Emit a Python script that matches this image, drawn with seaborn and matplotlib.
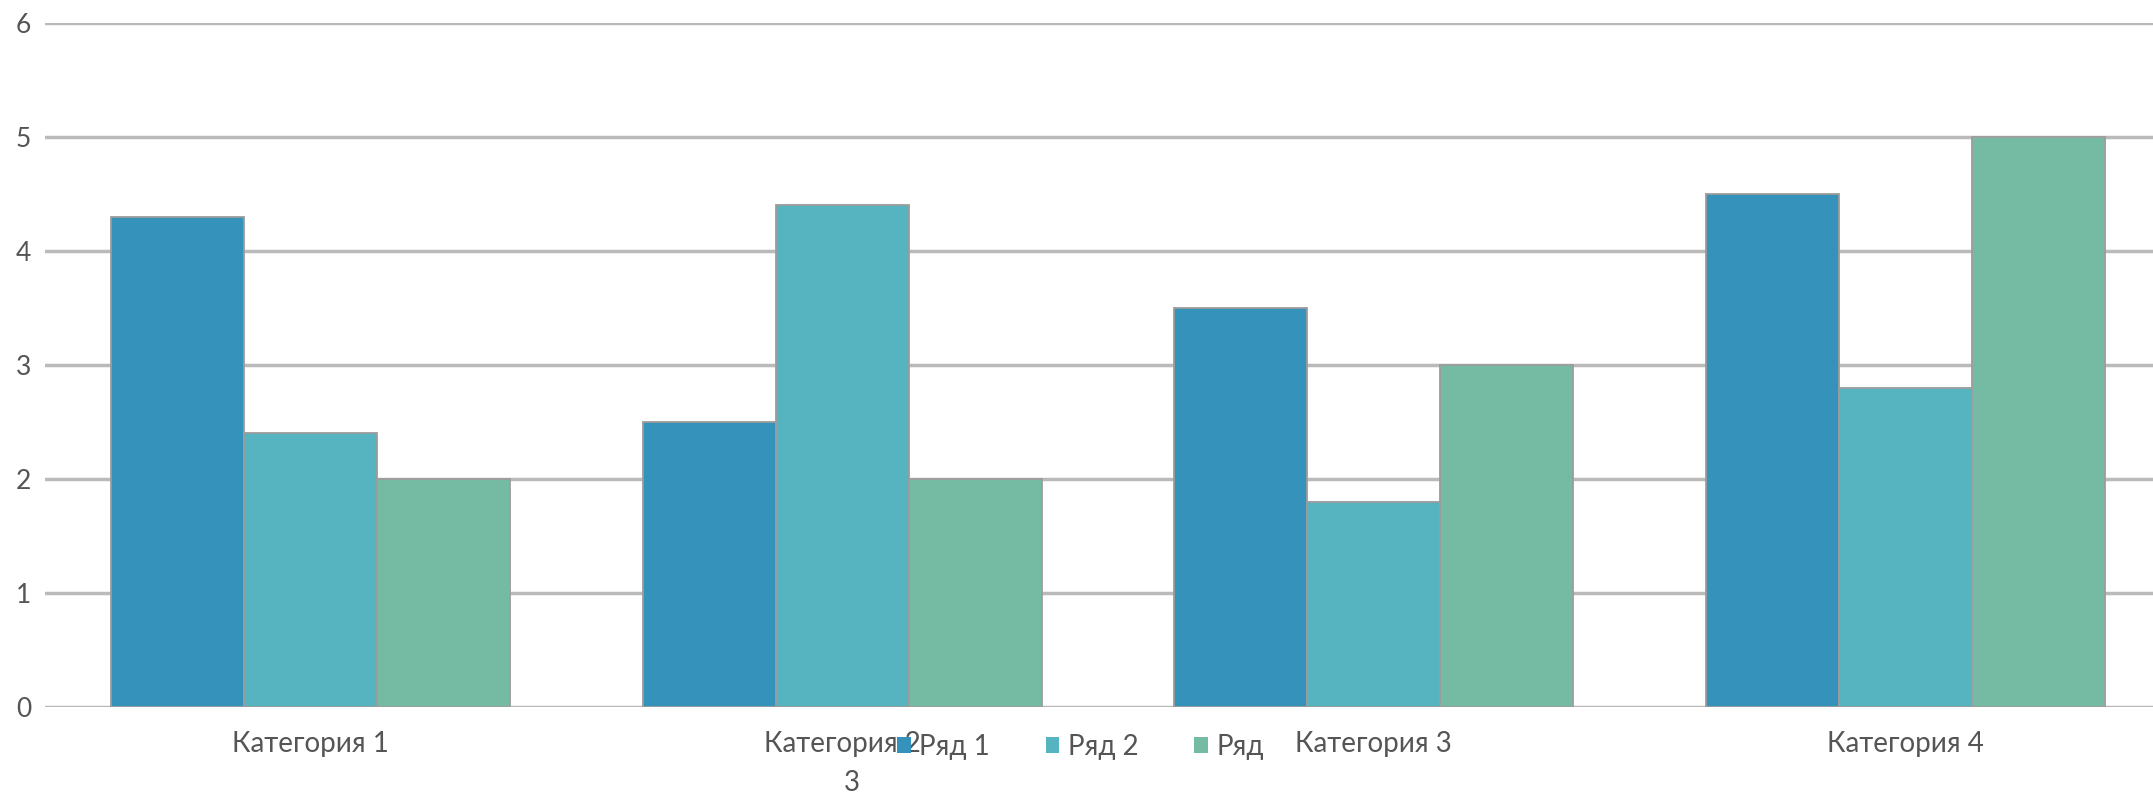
import matplotlib
matplotlib.use('Agg')
import matplotlib.pyplot as plt
import seaborn as sns
import pandas as pd
from matplotlib.patches import Patch

categories = ["Категория 1", "Категория 2", "Категория 3", "Категория 4"]
series_names = ["Ряд 1", "Ряд 2", "Ряд 3"]
row1 = [4.3, 2.5, 3.5, 4.5]
row2 = [2.4, 4.4, 1.8, 2.8]
row3 = [2.0, 2.0, 3.0, 5.0]
y_ticks = [0, 1, 2, 3, 4, 5, 6]
legend_labels = ["Ряд 1", "Ряд 2", "Ряд"]
colors = ["#3592BA", "#56B3C0", "#75BBA3"]

sns.set_theme(style="white")
plt.rcParams['font.family'] = ['Lato', 'DejaVu Sans']

values = [row1, row2, row3]
records = []
for s, vals in zip(series_names, values):
    for c, v in zip(categories, vals):
        records.append({"category": c, "series": s, "value": v})
df = pd.DataFrame(records)

W, H = 2153, 797
fig = plt.figure(figsize=(W / 100, H / 100), dpi=100)
ax = fig.add_axes([45 / W, (H - 707) / H, 2126 / W, (707 - 23) / H])

sns.barplot(data=df, x="category", y="value", hue="series", order=categories,
            hue_order=series_names, palette=colors, width=0.75, gap=0,
            saturation=1, edgecolor="#9C9C9C", linewidth=1.3, ax=ax, legend=False)

ax.set_ylim(0, 6)
ax.set_xlim(-0.5, 3.5)
ax.set_yticks(y_ticks)
ax.set_yticklabels([str(t) for t in y_ticks])
ax.yaxis.grid(True, color="#BABABA", linewidth=2.5)
ax.xaxis.grid(False)
ax.set_axisbelow(True)
for sp in ax.spines.values():
    sp.set_visible(False)
ax.set_xlabel("")
ax.set_ylabel("")
ax.tick_params(axis="y", length=0, labelsize=19, colors="#555555", pad=10)
ax.tick_params(axis="x", length=0, labelsize=20, colors="#555555", pad=17)

handles = [Patch(facecolor=c, edgecolor="none") for c in colors]
fig.legend(handles, legend_labels, ncol=3, loc="center left",
           bbox_to_anchor=(897 / W, 1 - 747 / H), frameon=False,
           handlelength=0.5, handleheight=0.5, handletextpad=0.3,
           columnspacing=2.0, borderpad=0, borderaxespad=0, fontsize=20,
           labelcolor="#555555")
fig.text(852 / W, 1 - 783 / H, "3", ha="center", va="center",
         fontsize=20, color="#555555")

fig.savefig("out.png", dpi=100)
